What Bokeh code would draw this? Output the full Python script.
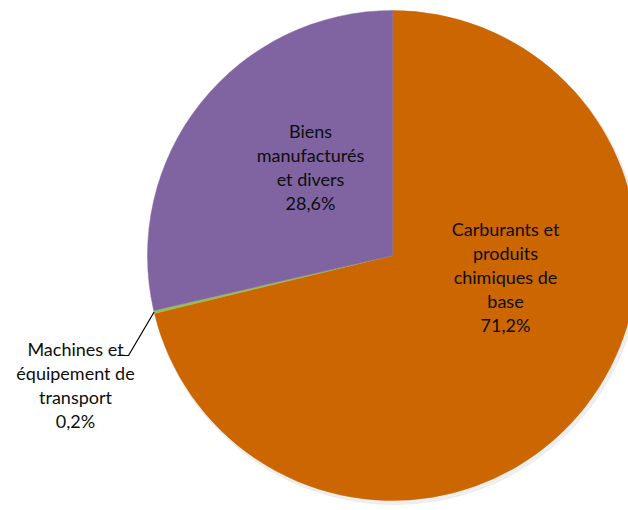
import numpy as np
from bokeh.plotting import figure
from bokeh.models import Range1d, ColumnDataSource
from bokeh.core.properties import value
from bokeh.embed import file_html
from bokeh.resources import INLINE

categories = ["Carburants et\nproduits\nchimiques de\nbase", "Machines et\néquipement de\ntransport", "Biens\nmanufacturés\net divers"]
values = [71.2, 0.2, 28.6]
pct_labels = ["71,2%", "0,2%", "28,6%"]
colors = ["#CC6600", "#9BBB59", "#8064A2"]

W, H = 628, 510
cx, cy, r = 392, H - 255, 245

p = figure(width=W, height=H, output_backend="svg", toolbar_location=None,
           x_range=Range1d(0, W), y_range=Range1d(0, H), min_border=0)
p.axis.visible = False
p.grid.visible = False
p.outline_line_color = None
p.background_fill_color = "white"

fr = np.array(values) / sum(values)
cum = np.concatenate([[0], np.cumsum(fr)])
start = np.pi / 2 - 2 * np.pi * cum[:-1]
end = np.pi / 2 - 2 * np.pi * cum[1:]

# faint shadow
p.wedge(x=cx + 2, y=cy - 3, radius=r + 1, start_angle=0, end_angle=2 * np.pi,
        color="#e4e4e4", alpha=0.6)
src = ColumnDataSource(dict(s=start, e=end, c=colors))
p.wedge(x=cx, y=cy, radius=r, start_angle="e", end_angle="s", fill_color="c",
        line_color="c", line_width=0.5, source=src)

# label positions
label_pos = [(505, 228), (75, 348), (310, 130)]
line_h = 24
for cat, pct, (lx, ly) in zip(categories, pct_labels, label_pos):
    lines = cat.split("\n") + [pct]
    ys = [H - (ly + i * line_h) for i in range(len(lines))]
    p.text(x=[lx] * len(lines), y=ys, text=lines, text_align="center",
           text_baseline="middle", text_font=value("Lato"), text_font_size="18px",
           text_color="#0d0d0d")

# leader line for small slice
mid = (start[1] + end[1]) / 2
ex, ey = cx + r * np.cos(mid), cy + r * np.sin(mid)
p.line(x=[ex, 128, 117], y=[ey, H - 355, H - 355], line_color="black", line_width=1.2)

open("out.html", "w").write(file_html(p, INLINE))
